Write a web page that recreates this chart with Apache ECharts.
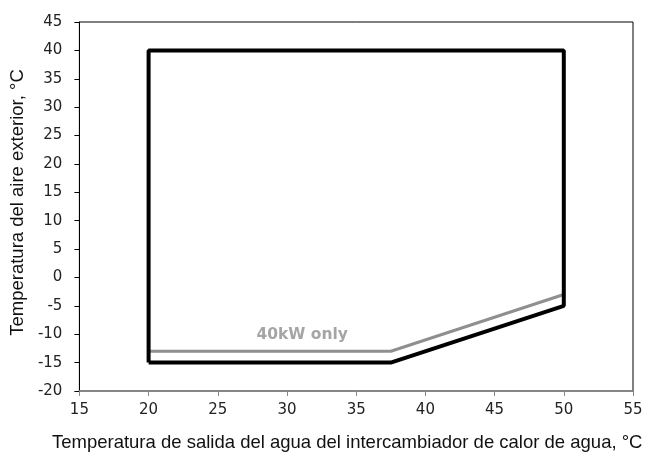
<!DOCTYPE html>
<html><head><meta charset="utf-8">
<script src="https://cdn.jsdelivr.net/npm/echarts@6/dist/echarts.min.js"></script>
<style>html,body{margin:0;padding:0;background:#fff;overflow:hidden}#c{width:646px;height:457px}</style>
</head><body><div id="c"></div>
<script>
const envelopeAll = [[20,-15],[20,40],[50,40],[50,-5],[37.5,-15],[20,-15]];
const envelope40kW = [[20,-13],[37.5,-13],[50,-3]];
const labelPoint = [[31.1,-10.1]];
const labelText = '40kW only';
const xTitle = 'Temperatura de salida del agua del intercambiador de calor de agua, °C';
const yTitle = 'Temperatura del aire exterior, °C';

const chart = echarts.init(document.getElementById('c'));
const tickFont = {fontFamily:'DejaVu Sans', fontSize:15, color:'#222'};
chart.setOption({
  animation:false,
  grid:{left:79,right:13,top:22,bottom:59,show:true,borderColor:'#000',borderWidth:1},
  xAxis:{type:'value',min:15,max:55,interval:5,
    axisLine:{onZero:false,lineStyle:{color:'#888',width:1.5}},
    axisTick:{show:true,length:5,lineStyle:{color:'#888'}},
    splitLine:{show:false},
    axisLabel:Object.assign({margin:12},tickFont),
    name:xTitle,nameLocation:'middle',nameGap:42,
    nameTextStyle:{fontFamily:'Liberation Sans',fontSize:18.5,color:'#111',padding:[0,18,0,0]}},
  yAxis:{type:'value',min:-20,max:45,interval:5,
    axisLine:{show:true,onZero:false,lineStyle:{color:'#000',width:1}},
    axisTick:{show:true,length:5,lineStyle:{color:'#000'}},
    splitLine:{show:false},
    axisLabel:Object.assign({margin:17},tickFont),
    name:yTitle,nameLocation:'middle',nameGap:47,
    nameTextStyle:{fontFamily:'Liberation Sans',fontSize:18.5,color:'#111',padding:[0,0,0,8]}},
  series:[
    {type:'line',data:envelopeAll,symbol:'none',lineStyle:{color:'#000',width:4},z:3},
    {type:'line',data:envelope40kW,symbol:'none',lineStyle:{color:'#8f8f8f',width:3},z:2},
    {type:'scatter',data:labelPoint,symbolSize:0,
      label:{show:true,position:'inside',formatter:labelText,fontFamily:'DejaVu Sans',fontWeight:'bold',fontSize:15.5,color:'#8f8f8f'}}
  ]
});
</script></body></html>
